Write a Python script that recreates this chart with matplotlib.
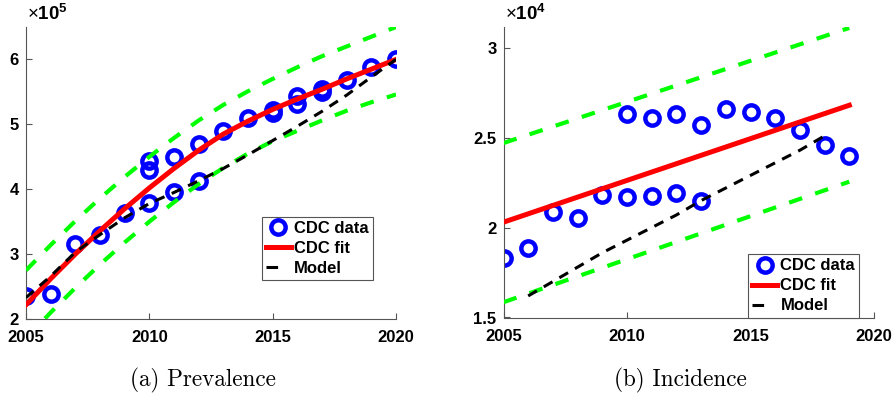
import matplotlib
matplotlib.use("Agg")
import matplotlib.pyplot as plt
from matplotlib.ticker import FuncFormatter
from matplotlib.lines import Line2D

plt.rcParams['font.family'] = ['Liberation Sans', 'DejaVu Sans']
plt.rcParams['mathtext.fontset'] = 'custom'
plt.rcParams['mathtext.rm'] = 'Liberation Sans'
plt.rcParams['mathtext.bf'] = 'Liberation Sans:bold'

# (a) Prevalence -- CDC points
prev_years = [2005, 2006, 2007, 2008, 2009, 2010, 2010, 2010, 2011, 2011, 2012, 2012,
              2013, 2014, 2015, 2015, 2016, 2016, 2017, 2017, 2018, 2019, 2020]
prev_data = [2.36e5, 2.38e5, 3.15e5, 3.30e5, 3.64e5, 3.79e5, 4.30e5, 4.43e5, 3.95e5, 4.50e5,
             4.12e5, 4.69e5, 4.89e5, 5.09e5, 5.17e5, 5.22e5, 5.31e5, 5.44e5, 5.50e5, 5.54e5,
             5.68e5, 5.89e5, 6.00e5]
# fit, bounds and model, yearly
prev_curve_years = list(range(2005, 2021))
prev_fit = [2.22e5, 2.62e5, 3.00e5, 3.36e5, 3.70e5, 4.02e5, 4.32e5, 4.60e5,
            4.85e5, 5.05e5, 5.23e5, 5.39e5, 5.54e5, 5.70e5, 5.85e5, 6.00e5]
prev_upper = [2.75e5, 3.14e5, 3.51e5, 3.86e5, 4.19e5, 4.50e5, 4.79e5, 5.06e5,
              5.30e5, 5.51e5, 5.70e5, 5.88e5, 6.05e5, 6.20e5, 6.35e5, 6.50e5]
prev_lower = [1.70e5, 2.10e5, 2.48e5, 2.84e5, 3.18e5, 3.50e5, 3.80e5, 4.08e5,
              4.33e5, 4.55e5, 4.74e5, 4.90e5, 5.06e5, 5.21e5, 5.34e5, 5.46e5]
prev_model = [2.33e5, 2.66e5, 3.03e5, 3.30e5, 3.56e5, 3.78e5, 3.95e5, 4.13e5,
              4.32e5, 4.53e5, 4.75e5, 4.97e5, 5.20e5, 5.45e5, 5.73e5, 6.00e5]

# (b) Incidence -- CDC points
inc_years = [2005, 2006, 2007, 2008, 2009, 2010, 2010, 2011, 2011, 2012, 2012,
             2013, 2013, 2014, 2015, 2016, 2017, 2018, 2019]
inc_data = [1.833e4, 1.888e4, 2.086e4, 2.052e4, 2.180e4, 2.169e4, 2.632e4, 2.174e4, 2.608e4,
            2.193e4, 2.631e4, 2.147e4, 2.570e4, 2.658e4, 2.645e4, 2.610e4, 2.544e4,
            2.457e4, 2.396e4]
inc_fit_years = [2005, 2019]
inc_fit = [2.03e4, 2.68e4]
inc_upper = [2.47e4, 3.11e4]
inc_lower = [1.585e4, 2.255e4]
inc_model_years = list(range(2006, 2019))
inc_model = [1.62e4, 1.70e4, 1.78e4, 1.86e4, 1.93e4, 2.00e4, 2.07e4,
             2.15e4, 2.22e4, 2.29e4, 2.36e4, 2.43e4, 2.51e4]

xticks = [2005, 2010, 2015, 2020]
prev_yticks = [2e5, 3e5, 4e5, 5e5, 6e5]
inc_yticks = [1.5e4, 2e4, 2.5e4, 3e4]
labels = ["CDC data", "CDC fit", "Model"]

BLUE = "#0000ff"
RED = "#ff0000"
GREEN = "#00ff00"
AX_COL = "#555555"

fig = plt.figure(figsize=(8.96, 3.95), dpi=100)
ax1 = fig.add_axes([26 / 896, 76 / 395, 370 / 896, 292 / 395])
ax2 = fig.add_axes([503.5 / 896, 77.5 / 395, 370.5 / 896, 290.5 / 395])


def draw_panel(ax, px, py, fx, fit, up, low, mx, model):
    ax.plot(px, py, 'o', ls='none', ms=10.3, mew=3.2, mfc='none', mec=BLUE,
            label=labels[0], zorder=2)
    ax.plot(fx, fit, color=RED, lw=3.6, label=labels[1], zorder=3)
    ax.plot(fx, up, color=GREEN, lw=3, dashes=(3.3, 3.3), zorder=3)
    ax.plot(fx, low, color=GREEN, lw=3, dashes=(3.3, 3.3), zorder=3)
    ax.plot(mx, model, color='black', lw=2.2, dashes=(3.3, 2.6), label=labels[2], zorder=4)


draw_panel(ax1, prev_years, prev_data, prev_curve_years, prev_fit, prev_upper,
           prev_lower, prev_curve_years, prev_model)
draw_panel(ax2, inc_years, inc_data, inc_fit_years, inc_fit, inc_upper,
           inc_lower, inc_model_years, inc_model)

ax1.set_ylim(2e5, 6.5e5)
ax2.set_ylim(1.5e4, 3.115e4)
ax1.set_yticks(prev_yticks)
ax2.set_yticks(inc_yticks)
ax1.yaxis.set_major_formatter(FuncFormatter(lambda v, p: f"{v / 1e5:g}"))
ax2.yaxis.set_major_formatter(FuncFormatter(lambda v, p: f"{v / 1e4:g}"))

for ax, expo in [(ax1, 5), (ax2, 4)]:
    ax.set_xlim(2005, 2020)
    ax.set_xticks(xticks)
    for s in ['top', 'right']:
        ax.spines[s].set_visible(False)
    for s in ['left', 'bottom']:
        ax.spines[s].set_color(AX_COL)
        ax.spines[s].set_linewidth(0.8)
    ax.tick_params(direction='in', length=4, width=0.8, color=AX_COL,
                   labelsize=12)
    ax.tick_params(axis='x', pad=8)
    ax.tick_params(axis='y', pad=5)
    for lab in ax.get_xticklabels() + ax.get_yticklabels():
        lab.set_fontweight('bold')
    ax.text(0.003, 1.01, r'$\times\mathbf{10}^{\mathbf{%d}}$' % expo, transform=ax.transAxes,
            ha='left', va='bottom', fontsize=13.5)

handles = [Line2D([], [], marker='o', ls='none', ms=10.3, mew=3.2, mfc='none', mec=BLUE),
           Line2D([], [], color=RED, lw=3.6),
           Line2D([], [], color='black', lw=2.2, dashes=(3.8, 12))]

for ax, anchor in [(ax1, (0.938, 0.134)), (ax2, (0.96, 0.0))]:
    leg = ax.legend(handles, labels, loc='lower right', bbox_to_anchor=anchor,
                    borderaxespad=0, fancybox=False, framealpha=1,
                    prop={'weight': 'bold', 'size': 12}, handlelength=1.5,
                    handletextpad=0.2, labelspacing=0.3, borderpad=0.25)
    leg.get_frame().set_edgecolor(AX_COL)
    leg.get_frame().set_linewidth(0.8)

fig.text(203 / 896, 1 - 380 / 395, "(a) Prevalence", family='cmr10', fontsize=16.7,
         ha='center', va='center')
fig.text(680 / 896, 1 - 380 / 395, "(b) Incidence", family='cmr10', fontsize=16.7,
         ha='center', va='center')

fig.savefig("out.png", dpi=100)
